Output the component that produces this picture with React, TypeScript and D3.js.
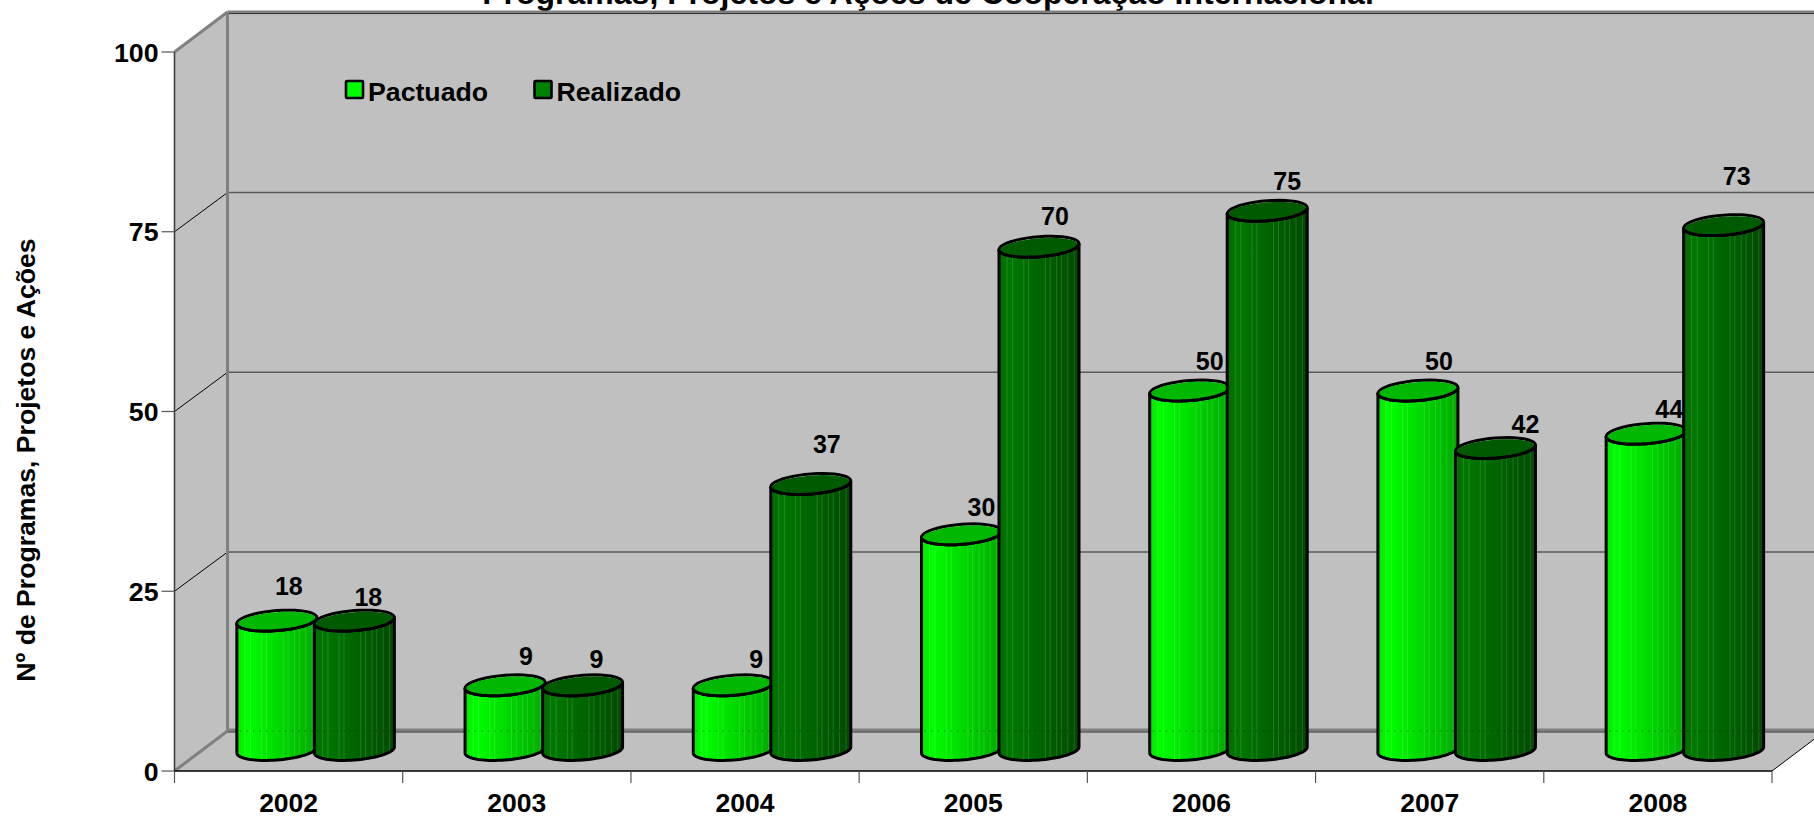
import React from "react";
import * as d3 from "d3";

const years = ["2002", "2003", "2004", "2005", "2006", "2007", "2008"];
const pactuado = [18, 9, 9, 30, 50, 50, 44];
const realizado = [18, 9, 37, 70, 75, 42, 73];
const yTicks = [0, 25, 50, 75, 100];
const stripeFractions = [0.1, 0.17, 0.31, 0.37, 0.58, 0.64, 0.72, 0.78, 0.86, 0.94];
// label nudges relative to the cylinder top (hand-placed in the source chart)
const pactNudgeX = [12, 21, 23, 20, 20, 21, 23];
const pactNudgeY = [-35, -29, -26, -27, -30, -30, -25];
const realNudgeX = [14, 14, 16, 16, 20, 30, 13];
const realNudgeY = [-24, -26, -40, -31, -30, -24, -49];

const W = 1814, H = 818;
const FONT = "'Liberation Sans', Arial, sans-serif";
const DX = 53, DY = 40, BASE_LIFT = 21;
const x = d3.scaleBand<string>().domain(years).range([174.5, 1772]);
const y = d3.scaleLinear().domain([0, 100]).range([771, 52]);
const RX = 40, RY = 10, SHEAR = 3;

const series = [
  { name: "Pactuado", values: pactuado, shift: -38.75, grad: "gp", top: "#00b800", swatch: "#00ff00", nx: pactNudgeX, ny: pactNudgeY },
  { name: "Realizado", values: realizado, shift: 38.75, grad: "gr", top: "#005a00", swatch: "#008000", nx: realNudgeX, ny: realNudgeY },
];

function ellipsePath(cx: number, cy: number, rx: number, ry: number, a = 0, b = Math.PI * 2) {
  const pts = d3.range(0, 41).map((i) => {
    const t = a + ((b - a) * i) / 40;
    return [cx + rx * Math.cos(t), cy + ry * Math.sin(t) - (SHEAR * rx * Math.cos(t)) / RX] as [number, number];
  });
  return d3.line()(pts) as string;
}

function Cylinder({ cx, topY, baseY, s }: any) {
  const lower = ellipsePath(cx, baseY, RX, RY, Math.PI, 0);
  const upper = ellipsePath(cx, topY, RX, RY, 0, Math.PI);
  const body = lower + "L" + upper.slice(1) + "Z";
  return (
    <g>
      <path d={body} fill={`url(#${s.grad})`} />
      {stripeFractions.map((f) => {
        const u = 2 * f - 1;
        const sx = cx + RX * u;
        const root = RY * Math.sqrt(1 - u * u);
        const yy1 = topY + root - SHEAR * u;
        const yy2 = baseY + root - SHEAR * u;
        return <line key={f} x1={sx} x2={sx} y1={yy1} y2={yy2} stroke="#fff" strokeOpacity={0.14} strokeWidth={1} />;
      })}
      <line x1={cx - RX + 3} x2={cx + RX - 3} y1={y(0) - DY} y2={y(0) - DY} stroke="#000" strokeOpacity={0.25} strokeWidth={1.5} strokeDasharray="1.5 5" />
      <path d={body} fill="none" stroke="#000" strokeWidth={3} strokeLinejoin="round" />
      <path d={ellipsePath(cx, topY, RX, RY)} fill="#dcdcdc" stroke="#000" strokeWidth={3} />
      <path d={ellipsePath(cx, topY + 0.8, RX - 1, RY - 0.8)} fill={s.top} />
      <path d={ellipsePath(cx, topY, RX, RY, 0, Math.PI)} fill="none" stroke="#000" strokeWidth={3} />
    </g>
  );
}

export default function App() {
  const y0 = y(0), yTop = y(100);
  const xL = x.range()[0], xR = x.range()[1];
  const groupOffset = x.bandwidth() / 2 + 27;
  return (
    <svg width={W} height={H} viewBox={`0 0 ${W} ${H}`} style={{ position: "absolute", left: 0, top: 0, background: "#fff" }} fontFamily={FONT} fontWeight="bold">
      <defs>
        <linearGradient id="gp" x1="0" x2="1" y1="0" y2="0">
          <stop offset="0" stopColor="#00e800" />
          <stop offset="0.14" stopColor="#00ff00" />
          <stop offset="0.6" stopColor="#00d200" />
          <stop offset="1" stopColor="#00aa00" />
        </linearGradient>
        <linearGradient id="gr" x1="0" x2="1" y1="0" y2="0">
          <stop offset="0" stopColor="#006c00" />
          <stop offset="0.14" stopColor="#007800" />
          <stop offset="0.6" stopColor="#006000" />
          <stop offset="1" stopColor="#004a00" />
        </linearGradient>
      </defs>

      <text x={928} y={4} textAnchor="middle" fontSize={32} fill="#000">Programas, Projetos e Ações de Cooperação Internacional</text>

      {/* back wall, side wall, floor */}
      <polygon points={`${xL + DX},${yTop - DY} ${W},${yTop - DY} ${W},${y0 - DY} ${xL + DX},${y0 - DY}`} fill="#c0c0c0" />
      <polygon points={`${xL},${yTop} ${xL + DX},${yTop - DY} ${xL + DX},${y0 - DY} ${xL},${y0}`} fill="#c0c0c0" />
      <polygon points={`${xL},${y0} ${xR},${y0} ${xR + DX},${y0 - DY} ${xL + DX},${y0 - DY}`} fill="#c0c0c0" />

      {/* gridlines */}
      {yTicks.filter((t) => t > 0 && t < 100).map((t) => (
        <g key={t}>
          <line x1={xL} x2={xL + DX} y1={y(t)} y2={y(t) - DY + 0.8} stroke="#000" strokeWidth={1} />
          <line x1={xL + DX} x2={W} y1={y(t) - DY + 0.8} y2={y(t) - DY + 0.8} stroke="#5a5a5a" strokeWidth={1.4} />
        </g>
      ))}

      {/* wall edges */}
      <line x1={xL + DX} x2={W} y1={yTop - DY} y2={yTop - DY} stroke="#808080" strokeWidth={3} />
      <line x1={xL + DX} x2={W} y1={yTop - DY + 1.6} y2={yTop - DY + 1.6} stroke="#303030" strokeWidth={1} />
      <line x1={xL + DX} x2={W} y1={y0 - DY - 1} y2={y0 - DY - 1} stroke="#808080" strokeWidth={3} />
      <line x1={xL + DX} x2={W} y1={y0 - DY + 1} y2={y0 - DY + 1} stroke="#303030" strokeWidth={1} />
      <line x1={xL + DX} x2={xL + DX} y1={yTop - DY} y2={y0 - DY} stroke="#808080" strokeWidth={3} />
      <line x1={xL} x2={xL + DX} y1={yTop} y2={yTop - DY} stroke="#808080" strokeWidth={3} />
      <line x1={xL} x2={xL + DX} y1={y0} y2={y0 - DY} stroke="#808080" strokeWidth={3} />
      <line x1={xR} x2={xR + DX} y1={y0} y2={y0 - DY} stroke="#000" strokeWidth={1} />

      {/* axes */}
      <line x1={xL} x2={xL} y1={yTop} y2={y0} stroke="#404040" strokeWidth={1.6} />
      <line x1={xL} x2={xR} y1={y0} y2={y0} stroke="#000" strokeWidth={1.4} />
      {yTicks.map((t) => (
        <g key={t}>
          <line x1={xL - 13} x2={xL} y1={y(t)} y2={y(t)} stroke="#555" strokeWidth={1.2} />
          <text x={158.5} y={y(t)} dy="0.36em" textAnchor="end" fontSize={26.7} fill="#000">{t}</text>
        </g>
      ))}
      {[...years.map((c) => x(c) as number), xR].map((tx) => (
        <line key={tx} x1={tx} x2={tx} y1={y0} y2={y0 + 12} stroke="#555" strokeWidth={1.2} />
      ))}
      {years.map((c) => (
        <text key={c} x={(x(c) as number) + x.bandwidth() / 2} y={812.3} textAnchor="middle" fontSize={26.5} fill="#000">{c}</text>
      ))}
      <text transform="translate(35,460) rotate(-90)" textAnchor="middle" fontSize={26.6} fill="#000">Nº de Programas, Projetos e Ações</text>

      {/* cylinders */}
      {years.map((c, i) =>
        series.map((s) => {
          const cx = (x(c) as number) + groupOffset + s.shift;
          return <Cylinder key={c + s.name} cx={cx} topY={y(s.values[i]) - BASE_LIFT} baseY={y0 - BASE_LIFT} s={s} />;
        })
      )}

      {/* value labels */}
      {years.map((c, i) =>
        series.map((s) => {
          const cx = (x(c) as number) + groupOffset + s.shift;
          return (
            <text key={c + s.name} x={cx + s.nx[i]} y={y(s.values[i]) - BASE_LIFT + s.ny[i]} dy="0.36em" textAnchor="middle" fontSize={25} fill="#000">
              {s.values[i]}
            </text>
          );
        })
      )}

      {/* legend */}
      {series.map((s, i) => (
        <g key={s.name} transform={`translate(${346 + i * 188.5},81)`}>
          <rect width={17} height={17} fill={s.swatch} stroke="#000" strokeWidth={2.6} rx={1} />
          <text x={22} y={20} fontSize={26.7} fill="#000">{s.name}</text>
        </g>
      ))}
    </svg>
  );
}
